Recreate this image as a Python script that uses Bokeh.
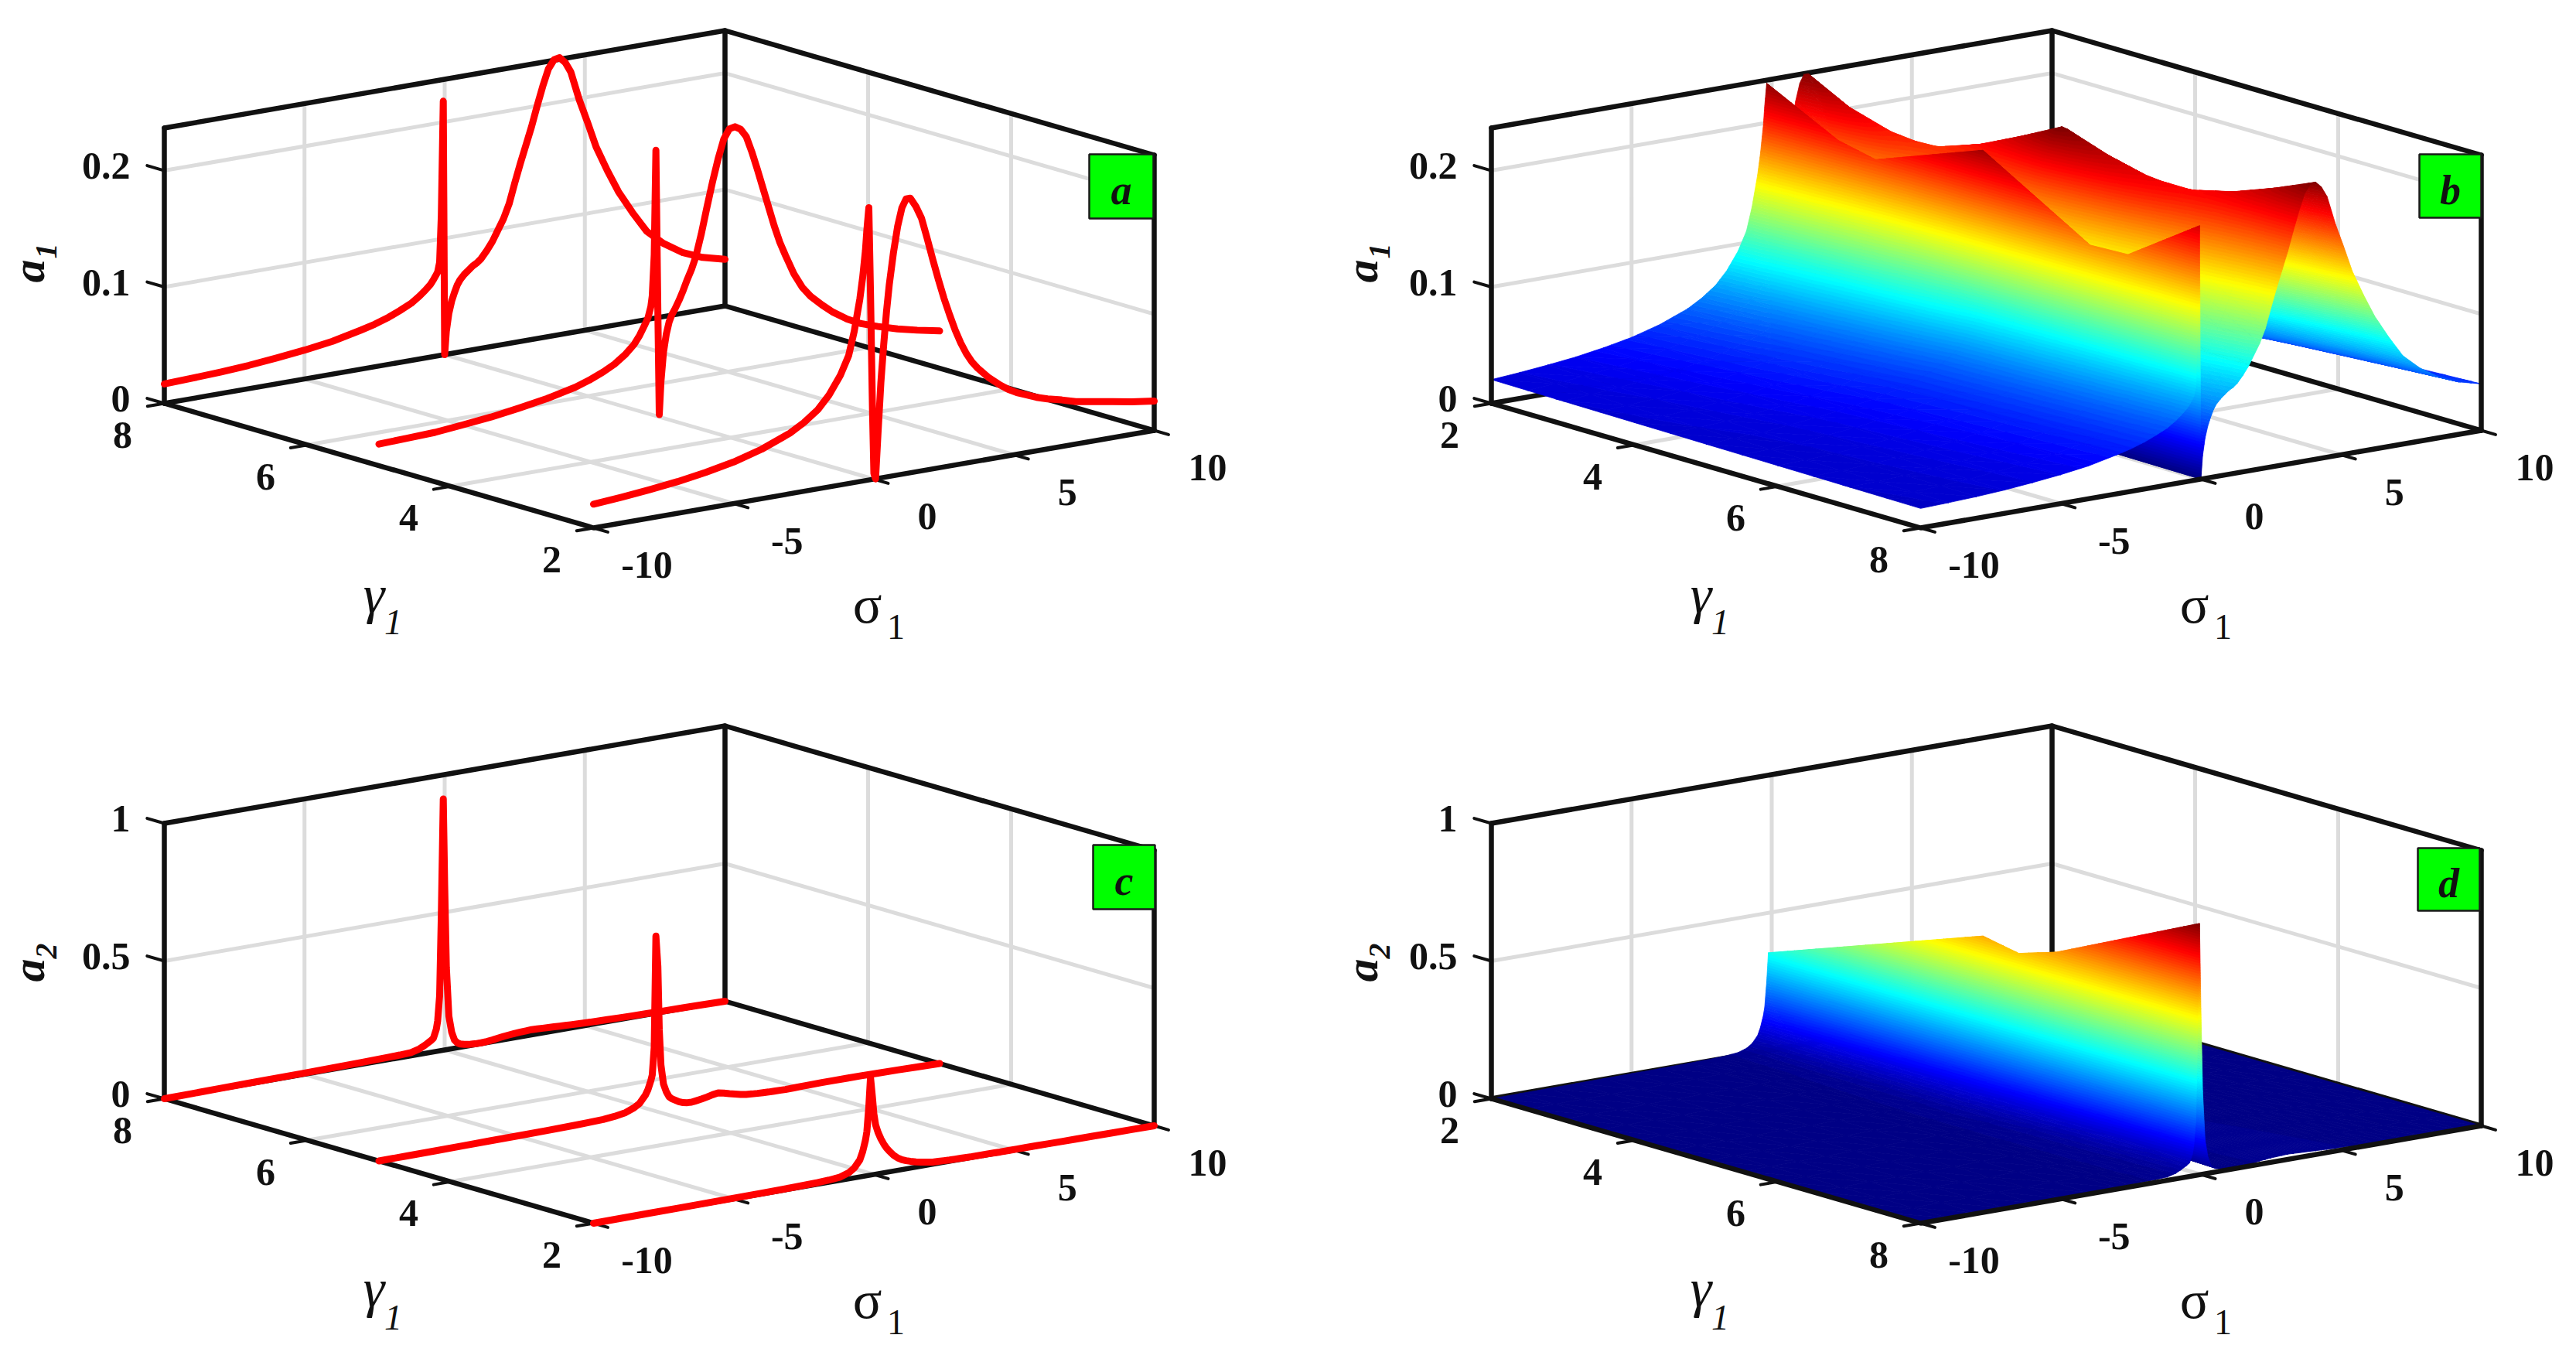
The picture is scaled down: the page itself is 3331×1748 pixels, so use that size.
#! /usr/bin/env python3
# Four projected 3D panels: a1 and a2 against sigma1 and gamma1.

import math

from bokeh.embed import file_html
from bokeh.layouts import gridplot
from bokeh.models import ColumnDataSource, Range1d
from bokeh.plotting import figure
from bokeh.resources import INLINE

SIGMA = [-10, -9, -8, -7, -6, -5, -4, -3, -2.5, -2, -1.6, -1.2, -0.9, -0.7, -0.5, -0.4, -0.3,
         -0.25, -0.18, -0.12, -0.05, 0, 0.06, 0.15, 0.25, 0.35, 0.45, 0.55, 0.7, 0.85, 1, 1.15,
         1.3, 1.5, 1.7, 1.9, 2.1, 2.3, 2.5, 2.7, 2.9, 3.1, 3.3, 3.5, 3.7, 3.9, 4.1, 4.3, 4.5,
         4.8, 5.1, 5.4, 5.8, 6.2, 6.7, 7.2, 7.8, 8.5, 9.2, 10]
GAMMA_ROWS = [2, 5, 8]

A1_G2 = [0.0204, 0.0222, 0.0245, 0.0272, 0.031, 0.0357, 0.0425, 0.052, 0.059, 0.068, 0.079, 0.094,
         0.11, 0.13, 0.157, 0.175, 0.198, 0.215, 0.234, 0.16, 0.06, 0.005, 0, 0.04, 0.082, 0.114,
         0.142, 0.165, 0.192, 0.214, 0.229, 0.236, 0.236, 0.228, 0.217, 0.199, 0.18, 0.162, 0.145,
         0.13, 0.116, 0.104, 0.094, 0.086, 0.08, 0.075, 0.07, 0.066, 0.062, 0.057, 0.053, 0.05,
         0.046, 0.043, 0.04, 0.0365, 0.034, 0.031, 0.028, 0.0252]
A1_G5 = [0.0185, 0.0193, 0.0202, 0.0225, 0.025, 0.0285, 0.0325, 0.038, 0.042, 0.047, 0.052, 0.059,
         0.066, 0.073, 0.082, 0.087, 0.096, 0.105, 0.14, 0.2296, 0.09, 0.002, 0.03, 0.055, 0.07,
         0.08, 0.086, 0.09, 0.097, 0.105, 0.114, 0.122, 0.132, 0.151, 0.173, 0.194, 0.213, 0.229,
         0.237, 0.238, 0.235, 0.228, 0.214, 0.198, 0.181, 0.164, 0.147, 0.132, 0.12, 0.103, 0.09,
         0.081, 0.072, 0.064, 0.056, 0.05, 0.045, 0.04, 0.036, 0.032]
A1_G8 = [0.0167, 0.0175, 0.0185, 0.02, 0.0222, 0.0248, 0.0282, 0.0335, 0.0365, 0.0405, 0.0445, 0.049,
         0.054, 0.058, 0.0626, 0.066, 0.07, 0.072, 0.08, 0.12, 0.218, 0, 0.02, 0.035, 0.045, 0.052,
         0.058, 0.062, 0.066, 0.069, 0.072, 0.074, 0.077, 0.083, 0.09, 0.099, 0.108, 0.12, 0.137,
         0.153, 0.168, 0.183, 0.2, 0.216, 0.23, 0.237, 0.238, 0.233, 0.224, 0.199, 0.178, 0.156,
         0.134, 0.114, 0.094, 0.076, 0.063, 0.052, 0.045, 0.04]

A2_G2 = [0, 0.0005, 0.001, 0.0015, 0.002, 0.0025, 0.003, 0.004, 0.005, 0.006, 0.008, 0.012, 0.022,
         0.036, 0.062, 0.09, 0.13, 0.16, 0.25, 0.355, 0.28, 0.22, 0.18, 0.15, 0.125, 0.105, 0.088,
         0.075, 0.058, 0.045, 0.036, 0.03, 0.025, 0.019, 0.015, 0.011, 0.008, 0.007, 0.006, 0.005,
         0.0045, 0.004, 0.0035, 0.003, 0.003, 0.003, 0.003, 0.0025, 0.002, 0.002, 0.002, 0.002,
         0.002, 0.0015, 0.001, 0.001, 0.001, 0.0005, 0.0005, 0]
A2_G5 = [0, 0.0005, 0.001, 0.002, 0.003, 0.0035, 0.0045, 0.006, 0.0075, 0.009, 0.013, 0.02, 0.032,
         0.045, 0.07, 0.09, 0.12, 0.14, 0.24, 0.642, 0.53, 0.3, 0.17, 0.1, 0.07, 0.05, 0.041, 0.035,
         0.026, 0.02, 0.017, 0.016, 0.018, 0.021, 0.025, 0.03, 0.033, 0.029, 0.023, 0.018, 0.013,
         0.01, 0.008, 0.0065, 0.0055, 0.0045, 0.004, 0.0035, 0.003, 0.0035, 0.004, 0.0045, 0.005,
         0.005, 0.005, 0.005, 0.004, 0.003, 0.0015, 0]
A2_G8 = [0, 0.001, 0.002, 0.003, 0.004, 0.0045, 0.006, 0.007, 0.008, 0.009, 0.01, 0.012, 0.02, 0.03,
         0.042, 0.05, 0.08, 0.11, 0.2, 0.49, 0.9125, 0.6, 0.3, 0.12, 0.06, 0.03, 0.018, 0.012, 0.008,
         0.005, 0.004, 0.003, 0.003, 0.004, 0.006, 0.009, 0.012, 0.014, 0.016, 0.017, 0.018, 0.019,
         0.018, 0.017, 0.016, 0.015, 0.014, 0.013, 0.012, 0.0105, 0.0095, 0.0085, 0.0075, 0.0065,
         0.0055, 0.0045, 0.0035, 0.0025, 0.0015, 0]

SIGMA_TICKS = [-10, -5, 0, 5, 10]
GAMMA_TICKS = [2, 4, 6, 8]
A1_TICKS = [0, 0.1, 0.2]
A1_LABELS = ["0", "0.1", "0.2"]
A2_TICKS = [0, 0.5, 1]
A2_LABELS = ["0", "0.5", "1"]

PANEL_W = 1665
PANEL_H = 874
FONT = "Liberation Serif"
NBANDS = 96


def jet(t):
    def ch(v):
        return int(round(255 * max(0.0, min(1.0, v))))

    return "#%02x%02x%02x" % (
        ch(1.5 - abs(4 * t - 3)),
        ch(1.5 - abs(4 * t - 2)),
        ch(1.5 - abs(4 * t - 1)),
    )


def clip_poly(poly, level, above):
    out = []
    for i, a in enumerate(poly):
        b = poly[(i + 1) % len(poly)]
        ina = a[2] >= level if above else a[2] <= level
        inb = b[2] >= level if above else b[2] <= level
        if ina:
            out.append(a)
        if ina != inb:
            u = (level - a[2]) / (b[2] - a[2])
            out.append((a[0] + u * (b[0] - a[0]), a[1] + u * (b[1] - a[1]), level))
    return out


def make_panel(origin, far_gamma, ztop, zticks, zlabels, zname, rows, surface, badge, letter, rel):
    p = figure(
        width=PANEL_W,
        height=PANEL_H,
        x_range=Range1d(0, PANEL_W),
        y_range=Range1d(PANEL_H, 0),
        x_axis_location=None,
        y_axis_location=None,
        toolbar_location=None,
        output_backend="svg",
        min_border=0,
        outline_line_color=None,
    )
    p.grid.visible = False
    near_gamma = 10 - far_gamma

    def pos(s, g, z):
        us = (s + 10) / 20
        ug = (g - near_gamma) / (far_gamma - near_gamma)
        return (
            origin[0] + us * 725 - ug * 555,
            origin[1] - us * 126 - ug * 161 - z / ztop * 356,
        )

    def lines(segs, color, width):
        xs, ys = [], []
        for seg in segs:
            pts = [pos(*q) for q in seg]
            xs.append([q[0] for q in pts])
            ys.append([q[1] for q in pts])
        p.multi_line(xs, ys, line_color=color, line_width=width, line_cap="round")

    # back walls and floor grid
    grid = []
    for z in zticks[1:]:
        grid.append([(-10, far_gamma, z), (10, far_gamma, z), (10, near_gamma, z)])
    for s in SIGMA_TICKS[1:-1]:
        grid.append([(s, near_gamma, 0), (s, far_gamma, 0), (s, far_gamma, ztop)])
    for g in GAMMA_TICKS[1:-1]:
        grid.append([(-10, g, 0), (10, g, 0), (10, g, ztop)])
    lines(grid, "#dcdcdc", 5)

    lines(
        [
            [(-10, far_gamma, ztop), (10, far_gamma, ztop), (10, near_gamma, ztop)],
            [(10, far_gamma, 0), (10, far_gamma, ztop)],
            [(-10, far_gamma, 0), (10, far_gamma, 0), (10, near_gamma, 0)],
        ],
        "#111111",
        6.5,
    )

    if surface:
        # far row first, and high sigma before low sigma, so nearer facets paint over
        zmax = max(max(r) for r in rows)
        fine = []
        for r0, r1, g0, g1 in zip(rows[:-1], rows[1:], GAMMA_ROWS[:-1], GAMMA_ROWS[1:]):
            for k in range(6):
                u = k / 6
                fine.append((g0 + u * (g1 - g0), [a + u * (b - a) for a, b in zip(r0, r1)]))
        fine.append((GAMMA_ROWS[-1], rows[-1]))
        if far_gamma == 8:
            fine.reverse()
        step = zmax / NBANDS
        xs, ys, colors = [], [], []
        for (g0, z0), (g1, z1) in zip(fine[:-1], fine[1:]):
            for i in range(len(SIGMA) - 2, -1, -1):
                c = [
                    pos(SIGMA[i + 1], g0, z0[i + 1]) + (z0[i + 1],),
                    pos(SIGMA[i], g0, z0[i]) + (z0[i],),
                    pos(SIGMA[i + 1], g1, z1[i + 1]) + (z1[i + 1],),
                    pos(SIGMA[i], g1, z1[i]) + (z1[i],),
                ]
                for tri in ([c[0], c[1], c[2]], [c[1], c[2], c[3]]):
                    lo = min(v[2] for v in tri)
                    hi = max(v[2] for v in tri)
                    for b in range(int(lo / step), min(int(hi / step), NBANDS - 1) + 1):
                        poly = clip_poly(tri, b * step, True) if b * step > lo else tri
                        if poly and (b + 1) * step < hi:
                            poly = clip_poly(poly, (b + 1) * step, False)
                        if len(poly) < 3:
                            continue
                        xs.append([v[0] for v in poly])
                        ys.append([v[1] for v in poly])
                        colors.append(jet((b + 0.5) / NBANDS))
        src = ColumnDataSource(dict(xs=xs, ys=ys, color=colors))
        p.patches("xs", "ys", source=src, fill_color="color", line_color="color", line_width=0.8)

    lines(
        [
            [(-10, far_gamma, 0), (-10, far_gamma, ztop)],
            [(10, near_gamma, 0), (10, near_gamma, ztop)],
            [(-10, far_gamma, 0), (-10, near_gamma, 0), (10, near_gamma, 0)],
        ],
        "#111111",
        6.5,
    )

    # tick stubs stick out past the box along the other floor direction
    out = 0.2 if near_gamma == 2 else -0.2
    stubs = [[(s, near_gamma, 0), (s, near_gamma - out, 0)] for s in SIGMA_TICKS]
    stubs += [[(-10, g, 0), (-10.6, g, 0)] for g in GAMMA_TICKS]
    stubs += [[(-10, far_gamma, z), (-10, far_gamma + 1.2 * out, z)] for z in zticks]
    lines(stubs, "#111111", 4)

    if not surface:
        for g, vals in zip(GAMMA_ROWS, rows):
            pts = [pos(s, g, v) for s, v in zip(SIGMA, vals)]
            p.line([q[0] for q in pts], [q[1] for q in pts], line_color="#ff0000",
                   line_width=9, line_join="round", line_cap="round")

    def text(x, y, labels, size, style="bold", **kw):
        p.text(x, y, text=labels, text_font=FONT, text_font_size=size, text_font_style=style,
               text_color="#111111", text_baseline="middle", **kw)

    base = [pos(s, near_gamma, 0) for s in SIGMA_TICKS]
    text([q[0] for q in base], [q[1] for q in base], [str(s) for s in SIGMA_TICKS], "50px",
         text_align="center", x_offset=69, y_offset=48)
    base = [pos(-10, g, 0) for g in GAMMA_TICKS]
    text([q[0] for q in base], [q[1] for q in base], [str(g) for g in GAMMA_TICKS], "50px",
         text_align="center", x_offset=-54, y_offset=41)
    base = [pos(-10, far_gamma, z) for z in zticks]
    text([q[0] for q in base], [q[1] for q in base], zlabels, "50px",
         text_align="right", x_offset=-44, y_offset=-6)

    ox, oy = origin
    lab = 8 if surface else 0
    text([ox + lab + rel["a"][0]], [oy + rel["a"][1]], ["a"], "60px", "bold italic",
         text_align="center", angle=math.pi / 2)
    text([ox + lab + rel["asub"][0]], [oy + rel["asub"][1]], [zname], "40px", "bold italic",
         text_align="center", angle=math.pi / 2)
    text([ox + rel["g"][0]], [oy + rel["g"][1]], ["\u03b3"], "70px", "italic", text_align="center")
    text([ox + rel["gsub"][0]], [oy + rel["gsub"][1]], ["1"], "46px", "italic", text_align="center")
    text([ox + rel["s"][0]], [oy + rel["s"][1]], ["\u03c3"], "70px", "normal", text_align="center")
    text([ox + rel["ssub"][0]], [oy + rel["ssub"][1]], ["1"], "46px", "normal", text_align="center")

    p.quad(left=[ox + badge[0]], right=[ox + badge[1]], top=[oy + badge[2]], bottom=[oy + badge[3]],
           fill_color="#00ff00", line_color="#1a1a1a", line_width=2.5)
    text([ox + (badge[0] + badge[1]) / 2], [oy + (badge[2] + badge[3]) / 2], [letter], "54px",
         "bold italic", text_align="center", y_offset=5)
    return p


REL_A1 = dict(a=(-731, -332), asub=(-708, -358), g=(-284, 86), gsub=(-259, 122),
              s=(354, 99), ssub=(391, 128))
REL_A2 = dict(a=(-731, -327), asub=(-708, -352), g=(-284, 84), gsub=(-259, 122),
              s=(354, 99), ssub=(391, 128))
A1_ROWS = [A1_G2, A1_G5, A1_G8]
A2_ROWS = [A2_G2, A2_G5, A2_G8]

pa = make_panel((767, 682), 8, 0.2366, A1_TICKS, A1_LABELS, "1", A1_ROWS, False,
                (641, 724, -483, -400), "a", REL_A1)
pb = make_panel((818, 682), 2, 0.2366, A1_TICKS, A1_LABELS, "1", A1_ROWS, True,
                (645, 725, -483, -401), "b", REL_A1)
pc = make_panel((767, 707), 8, 1.0, A2_TICKS, A2_LABELS, "2", A2_ROWS, False,
                (646, 726, -489, -406), "c", REL_A2)
pd = make_panel((818, 707), 2, 1.0, A2_TICKS, A2_LABELS, "2", A2_ROWS, True,
                (643, 723, -485, -404), "d", REL_A2)

layout = gridplot([[pa, pb], [pc, pd]], toolbar_location=None)
open("out.html", "w").write(file_html(layout, INLINE))
